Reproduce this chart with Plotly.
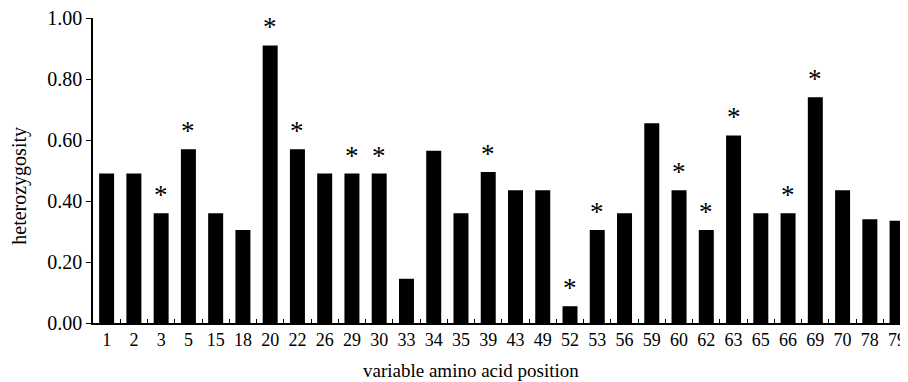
import plotly.graph_objects as go

positions = ["1", "2", "3", "5", "15", "18", "20", "22", "26", "29", "30", "33", "34", "35",
             "39", "43", "49", "52", "53", "56", "59", "60", "62", "63", "65", "66", "69",
             "70", "78", "79"]
heterozygosity = [0.49, 0.49, 0.36, 0.57, 0.36, 0.305, 0.91, 0.57, 0.49, 0.49, 0.49, 0.145,
                  0.565, 0.36, 0.495, 0.435, 0.435, 0.055, 0.305, 0.36, 0.655, 0.435, 0.305,
                  0.615, 0.36, 0.36, 0.74, 0.435, 0.34, 0.335]
starred = ["3", "5", "20", "22", "29", "30", "39", "52", "53", "60", "62", "63", "66", "69"]
y_ticks = [0, 0.2, 0.4, 0.6, 0.8, 1.0]

FONT = "Liberation Serif"

fig = go.Figure()
fig.add_trace(go.Bar(x=positions, y=heterozygosity, marker=dict(color="black", line=dict(width=0)),
                     width=0.55, showlegend=False))

annotations = []
for i, (p, v) in enumerate(zip(positions, heterozygosity)):
    if p in starred:
        annotations.append(dict(x=i, y=v, xref="x", yref="y", text="*", showarrow=False,
                                yanchor="bottom", yshift=1,
                                font=dict(family=FONT, size=27, color="black")))
annotations.append(dict(x=0.464, y=-0.157, xref="paper", yref="paper",
                        text="variable amino acid position", showarrow=False,
                        xanchor="center", yanchor="middle",
                        font=dict(family=FONT, size=19, color="black")))
annotations.append(dict(x=0, y=0.45, xref="paper", yref="paper", xshift=-73,
                        text="heterozygosity", showarrow=False, textangle=-90,
                        xanchor="center", yanchor="middle",
                        font=dict(family=FONT, size=20, color="black")))

fig.update_layout(
    width=908, height=382,
    margin=dict(l=85, r=8, t=10, b=67, autoexpand=False),
    paper_bgcolor="white", plot_bgcolor="white",
    annotations=annotations,
)
fig.update_xaxes(type="category", range=[-0.5, 29.4], showline=True, linecolor="black", linewidth=1.5,
                 ticks="inside", tickson="boundaries", ticklen=4, tickcolor="black", tickwidth=1.2,
                 showgrid=False, zeroline=False, tickangle=0, automargin=False,
                 ticklabeloverflow="allow",
                 tickfont=dict(family=FONT, size=18, color="black"))
fig.update_yaxes(range=[0, 1.0], showline=True, linecolor="black", linewidth=1.5,
                 ticks="outside", ticklen=5, tickcolor="black", tickwidth=1.2, automargin=False,
                 tickvals=y_ticks, tickformat=".2f", showgrid=False, zeroline=False,
                 ticklabeloverflow="allow",
                 tickfont=dict(family=FONT, size=20, color="black"))

fig.write_html("out.html")
